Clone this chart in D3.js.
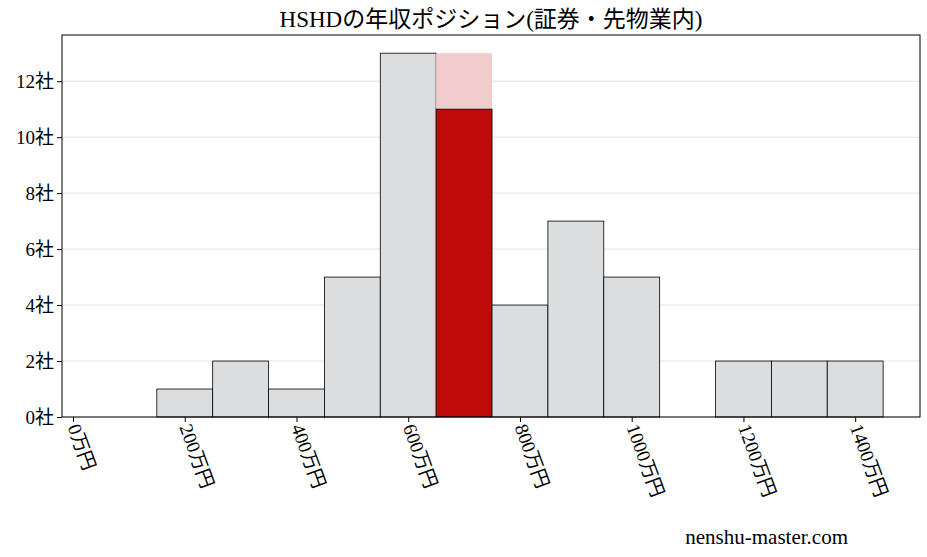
<!DOCTYPE html>
<html><head><meta charset="utf-8">
<script src="https://cdn.jsdelivr.net/npm/d3@7"></script>
<style>body{margin:0;background:#fff}text{font-family:"Liberation Serif","DejaVu Serif","Noto Sans CJK JP",serif}</style>
</head><body><svg id="c" width="927" height="557"></svg>
<script>
const binStarts=[150,250,350,450,550,650,750,850,950,1150,1250,1350];
const counts=[1,2,1,5,13,13,4,7,5,2,2,2];
const highlightStart=650, highlightValue=11;
const xTicks=[0,200,400,600,800,1000,1200,1400];
const yTicks=[0,2,4,6,8,10,12];
const binWidth=100;
const svg=d3.select("#c");
const L=62,R=920,T=35,B=417;
const x=d3.scaleLinear().domain([-19.7,1516]).range([L,R]);
const y=d3.scaleLinear().domain([0,13.65]).range([B,T]);
const g=svg.append("g");
yTicks.forEach(t=>g.append("line").attr("x1",L).attr("x2",R).attr("y1",y(t)).attr("y2",y(t)).attr("stroke","#ddd").attr("stroke-width",0.8));
binStarts.forEach((s,i)=>{
  const hl=s===highlightStart;
  g.append("rect").attr("x",x(s)).attr("width",x(s+binWidth)-x(s)).attr("y",y(counts[i])).attr("height",B-y(counts[i]))
   .attr("fill",hl?"#f2cccc":"#dcdddf").attr("stroke",hl?"none":"#000").attr("stroke-width",0.8);
  if(hl) g.append("rect").attr("x",x(s)).attr("width",x(s+binWidth)-x(s)).attr("y",y(highlightValue)).attr("height",B-y(highlightValue))
   .attr("fill","#bf0a0a").attr("stroke","#000").attr("stroke-width",0.8);
});
g.append("rect").attr("x",L).attr("y",T).attr("width",R-L).attr("height",B-T).attr("fill","none").attr("stroke","#000").attr("stroke-width",1);
const xa=svg.append("g").attr("transform",`translate(0,${B})`).call(d3.axisBottom(x).tickValues(xTicks).tickSize(5).tickFormat(d=>d+"万円"));
xa.select(".domain").remove();
xa.selectAll("text").attr("font-size",19).attr("text-anchor","start").attr("dy",0).attr("transform","translate(-6,10) rotate(70)").attr("y",0).attr("x",0).attr("fill","#000");
const ya=svg.append("g").attr("transform",`translate(${L},0)`).call(d3.axisLeft(y).tickValues(yTicks).tickSize(5).tickFormat(d=>d+"社"));
ya.select(".domain").remove();
ya.selectAll("text").attr("font-size",19).attr("fill","#000");
svg.append("text").attr("x",491).attr("y",27).attr("text-anchor","middle").attr("font-size",23).text("HSHDの年収ポジション(証券・先物業内)");
svg.append("text").attr("x",848).attr("y",544).attr("text-anchor","end").attr("font-size",21).text("nenshu-master.com");
</script></body></html>
